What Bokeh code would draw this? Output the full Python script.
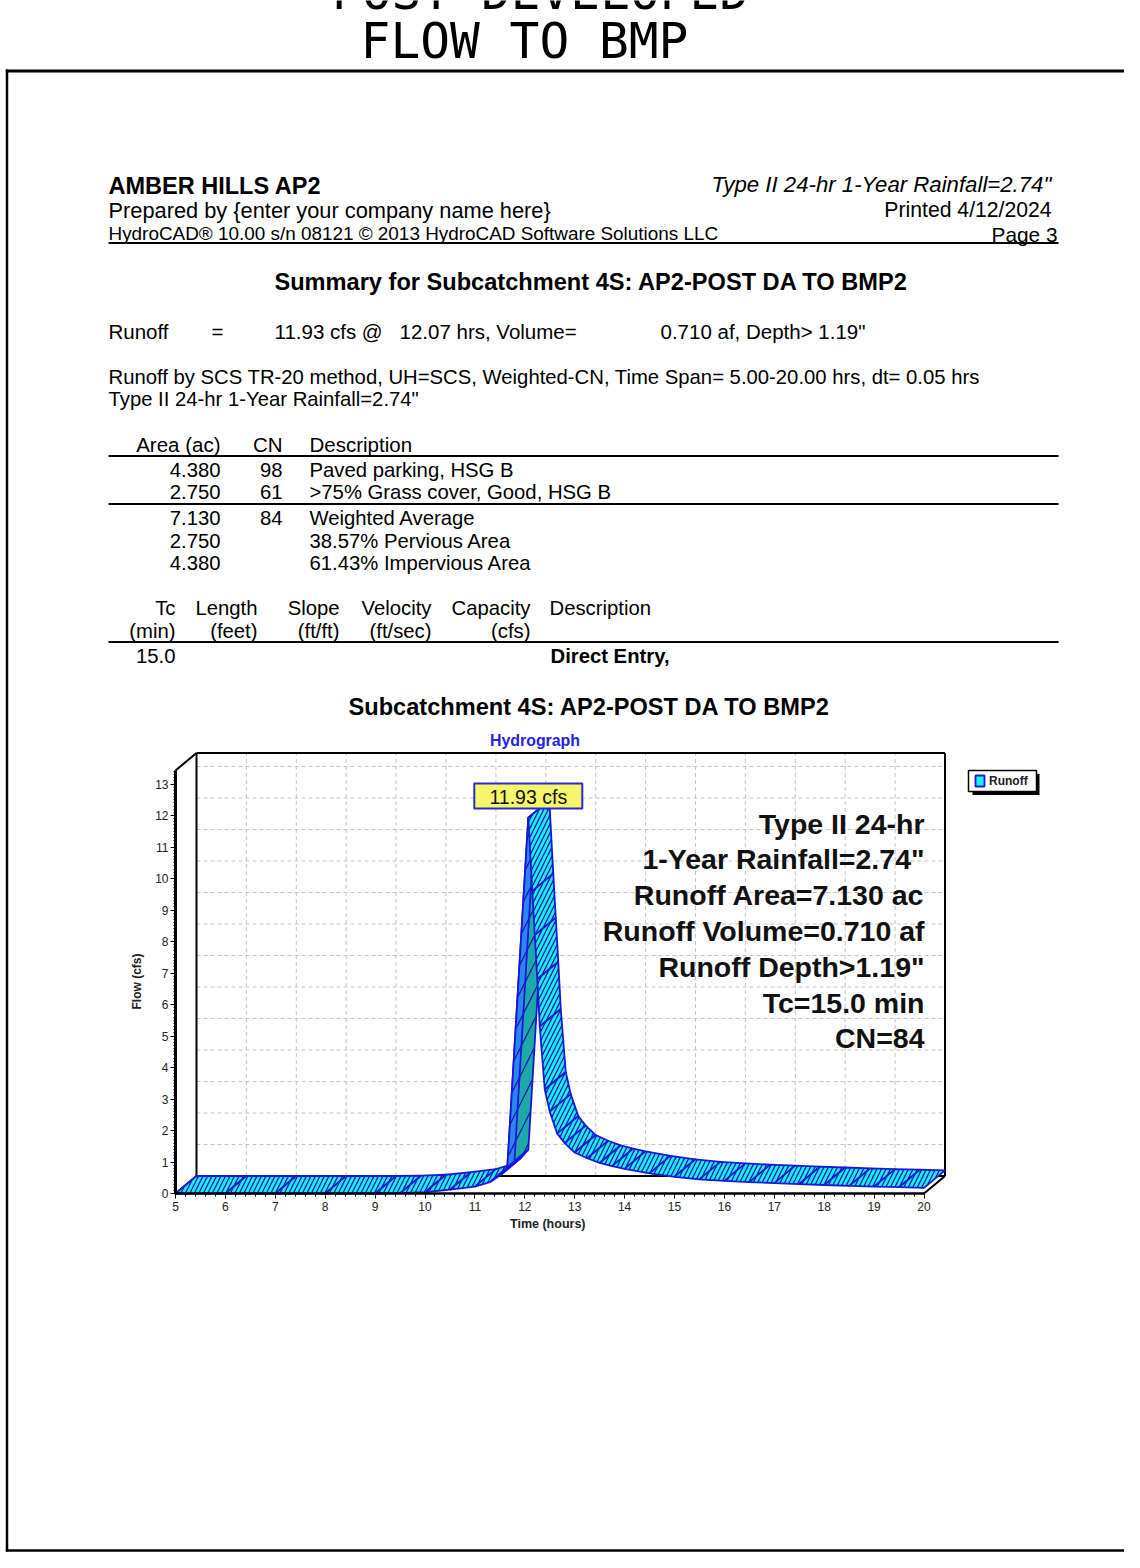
import math
from bokeh.plotting import figure
from bokeh.models import Range1d, LinearAxis, FixedTicker
from bokeh.core.properties import value
from bokeh.embed import file_html
from bokeh.resources import INLINE

# ---------------- data ----------------
time_hr = [5.0, 6.0, 7.0, 8.0, 9.0, 9.5, 10.0, 10.5, 11.0, 11.3, 11.5, 11.65,
           12.07, 12.15, 12.2, 12.25, 12.3, 12.4, 12.5, 12.65, 12.8, 13.0,
           13.25, 13.5, 13.75, 14.0, 14.5, 15.0, 15.5, 16.0, 16.5, 17.0,
           17.5, 18.0, 18.5, 19.0, 19.5, 20.0]
flow_cfs = [0.0, 0.0, 0.0, 0.0, 0.0, 0.01, 0.04, 0.12, 0.22, 0.36, 0.57, 0.84,
            11.93, 9.6, 8.2, 6.8, 5.3, 3.3, 2.6, 1.9, 1.6, 1.3,
            1.12, 0.97, 0.87, 0.78, 0.64, 0.53, 0.45, 0.40, 0.36, 0.33,
            0.30, 0.27, 0.24, 0.22, 0.20, 0.18]
peak_flow = 11.93
peak_time = 12.07
y_ticks = list(range(0, 14))
x_ticks = list(range(5, 21))

area_ac = ["4.380", "2.750", "7.130", "2.750", "4.380"]
cn_vals = ["98", "61", "84", "", ""]
area_desc = ["Paved parking, HSG B", ">75% Grass cover, Good, HSG B",
             "Weighted Average", "38.57% Pervious Area", "61.43% Impervious Area"]
tc_head1 = ["Tc", "Length", "Slope", "Velocity", "Capacity"]
tc_head2 = ["(min)", "(feet)", "(ft/ft)", "(ft/sec)", "(cfs)"]
chart_notes = ["Type II 24-hr", "1-Year Rainfall=2.74\"", "Runoff Area=7.130 ac",
               "Runoff Volume=0.710 af", "Runoff Depth>1.19\"", "Tc=15.0 min", "CN=84"]

# ---------------- page geometry (page pixels -> chart data) ----------------
W, H = 1124, 1552
T0PX, F0PY = 175.0, 1193.0
SX, SY = 49.9, 31.5


def X(px):
    return 5 + (px - T0PX) / SX


def Y(py):
    return (F0PY - py) / SY


p = figure(width=W, height=H, x_range=Range1d(X(0), X(W)),
           y_range=Range1d(Y(H), Y(0)), output_backend="svg",
           toolbar_location=None, x_axis_location=None, y_axis_location=None,
           min_border=0, outline_line_color=None,
           background_fill_color="white", border_fill_color="white")
p.xgrid.visible = False
p.ygrid.visible = False
for g in list(p.center):
    if g.__class__.__name__ == "Grid":
        g.visible = False

SANS = "Liberation Sans"


def txt(px, py, s, size, align="left", style="normal", color="black",
        font=SANS, angle=0.0, baseline="middle"):
    p.text(x=[X(px)], y=[Y(py)], text=[s], text_font=value(font),
           text_font_size=f"{size}px", text_align=align,
           text_baseline=baseline, text_color=color, text_font_style=style,
           angle=angle)


def hrule(px0, px1, py, w=2.0, color="black"):
    p.segment(x0=[X(px0)], y0=[Y(py)], x1=[X(px1)], y1=[Y(py)],
              line_width=w, line_color=color)


def vrule(px, py0, py1, w=2.0, color="black"):
    p.segment(x0=[X(px)], y0=[Y(py0)], x1=[X(px)], y1=[Y(py1)],
              line_width=w, line_color=color)


# ---------------- outer page ----------------
txt(540, -9, "POST DEVELOPED", 49.5, align="center", font="DejaVu Sans Mono")
txt(524, 40, "FLOW TO BMP", 49.5, align="center", font="DejaVu Sans Mono")
hrule(5.3, W, 70.5, 3)
vrule(6.5, 69, 1551, 2.5)
hrule(5.3, W, 1550, 2.5)

# ---------------- header ----------------
txt(108, 185, "AMBER HILLS AP2", 23.5, style="bold")
txt(108, 210, "Prepared by {enter your company name here}", 21.8)
txt(108, 233, "HydroCAD\u00ae 10.00  s/n 08121  \u00a9 2013 HydroCAD Software Solutions LLC", 18.9)
txt(1057, 184, "Type II 24-hr  1-Year Rainfall=2.74\"", 22.2, align="right", style="italic")
txt(1057, 209, "Printed  4/12/2024", 21.2, align="right")
txt(1057, 234, "Page 3", 20.8, align="right")
hrule(108, 1058, 242.5, 2)

txt(591, 281, "Summary for Subcatchment 4S: AP2-POST DA TO BMP2", 23.6,
    align="center", style="bold")

txt(108, 331, "Runoff", 20.5)
txt(211, 331, "=", 20.5)
txt(274, 331, f"{peak_flow:.2f} cfs @", 20.5)
txt(399, 331, f"{peak_time:.2f} hrs,  Volume=", 20.5)
txt(660, 331, "0.710 af,  Depth>  1.19\"", 20.5)

txt(108, 376, "Runoff by SCS TR-20 method, UH=SCS, Weighted-CN, Time Span= 5.00-20.00 hrs, dt= 0.05 hrs", 20.3)
txt(108, 398, "Type II 24-hr  1-Year Rainfall=2.74\"", 20.3)

# area table
txt(220, 444, "Area (ac)", 20.5, align="right")
txt(282, 444, "CN", 20.5, align="right")
txt(309, 444, "Description", 20.5)
hrule(108, 1058, 455.5, 2)
row_y = [469.5, 491.5, 517.5, 540, 562]
for i in range(len(area_ac)):
    txt(220, row_y[i], area_ac[i], 20.3, align="right")
    if cn_vals[i]:
        txt(282, row_y[i], cn_vals[i], 20.3, align="right")
    txt(309, row_y[i], area_desc[i], 20.3)
hrule(108, 1058, 503.5, 2)

# tc table
tc_right = [175, 257, 339, 431, 530]
for i in range(len(tc_head1)):
    txt(tc_right[i], 607.5, tc_head1[i], 20.3, align="right")
    txt(tc_right[i], 630.5, tc_head2[i], 20.3, align="right")
txt(549, 607.5, "Description", 20.3)
hrule(108, 1058, 641.5, 2)
txt(175, 655.5, "15.0", 20.3, align="right")
txt(550, 655.5, "Direct Entry,", 20.3, style="bold")

# ---------------- chart ----------------
txt(589, 706, "Subcatchment 4S: AP2-POST DA TO BMP2", 23.6, align="center", style="bold")
txt(534.5, 739.5, "Hydrograph", 15.9, align="center", style="bold", color="#2323e6")

DT = 21.0 / SX      # 3-D depth offset (hours)
DF = 17.5 / SY      # 3-D depth offset (cfs)
FTOP = Y(770)       # top of the front axis

# back-wall grid
gx = [k + DT for k in x_ticks[1:-1]]
p.segment(x0=gx, y0=[DF] * len(gx), x1=gx, y1=[FTOP + DF] * len(gx),
          line_color="#c4c4c4", line_dash="4 3", line_width=1)
gy = [k + DF for k in y_ticks[1:]]
p.segment(x0=[5 + DT] * len(gy), y0=gy, x1=[20 + DT] * len(gy), y1=gy,
          line_color="#c4c4c4", line_dash="4 3", line_width=1)

# back wall frame + 3-D corners
p.segment(x0=[5 + DT, 5 + DT, 20 + DT, 5 + DT], y0=[DF, FTOP + DF, DF, DF],
          x1=[20 + DT, 20 + DT, 20 + DT, 5 + DT], y1=[DF, FTOP + DF, FTOP + DF, FTOP + DF],
          line_color="black", line_width=2)
p.segment(x0=[5, 5, 20], y0=[FTOP, 0, 0], x1=[5 + DT, 5 + DT, 20 + DT],
          y1=[FTOP + DF, DF, DF], line_color="black", line_width=2)

# 3-D hydrograph ribbon (one face per time step)
xs, ys, fills, hpat, hscale = [], [], [], [], []
for i in range(len(time_hr) - 1):
    t0, t1 = time_hr[i], time_hr[i + 1]
    f0, f1 = flow_cfs[i], flow_cfs[i + 1]
    dxp = (t1 - t0) * SX
    dyp = (f1 - f0) * SY
    under = dxp * 17.5 - dyp * 21.0 < 0
    xs.append([t0, t1, t1 + DT, t0 + DT])
    ys.append([f0, f1, f1 + DF, f0 + DF])
    if under:
        fills.append("#1ea9a9")
        hpat.append("/")
        hscale.append(28)
        k = 0.34
        xs.append([t0, t1, t1 + k * DT, t0 + k * DT])
        ys.append([f0, f1, f1 + k * DF, f0 + k * DF])
        fills.append("#2a86f2")
        hpat.append("/")
        hscale.append(28)
    else:
        fills.append("#14f2f2")
        hpat.append("/")
        hscale.append(9)
p.patches(xs=xs, ys=ys, fill_color=fills, line_color="#1818d8", line_width=1.8,
          hatch_pattern=hpat, hatch_color="#1616b4", hatch_scale=hscale,
          hatch_weight=1.3)

# peak label
hw = 54 / SX
p.quad(left=[peak_time - hw], right=[peak_time + hw], top=[Y(783)], bottom=[Y(808)],
       fill_color="#f6f66a", line_color="#2a2ad0", line_width=2)
p.text(x=[peak_time], y=[Y(796)], text=[f"{peak_flow:.2f} cfs"], text_font=value(SANS),
       text_font_size="19.5px", text_align="center", text_baseline="middle",
       text_color="#111111")

# notes
for i, s in enumerate(chart_notes):
    txt(924, 823 + i * 35.8, s, 28.5, align="right", style="bold", color="#111111")

# legend
p.quad(left=[X(972)], right=[X(1039)], top=[Y(773.5)], bottom=[Y(794.5)],
       fill_color="black", line_color=None)
p.quad(left=[X(968)], right=[X(1036)], top=[Y(770)], bottom=[Y(791)],
       fill_color="white", line_color="black", line_width=1.5)
p.quad(left=[X(975)], right=[X(984)], top=[Y(775)], bottom=[Y(786)],
       fill_color="#14f2f2", line_color="#1818d8", line_width=1.8)
txt(988.5, 780.5, "Runoff", 12, style="bold", color="#222222")

# axes
yaxis = LinearAxis(fixed_location=5, bounds=(0, FTOP),
                   ticker=FixedTicker(ticks=y_ticks,
                                      minor_ticks=[i / 10 for i in range(0, 135)]),
                   axis_line_width=3, axis_line_color="black",
                   major_tick_out=5, major_tick_in=0, major_tick_line_width=1,
                   minor_tick_out=2, minor_tick_in=0, minor_tick_line_width=1,
                   major_label_text_font=SANS, major_label_text_font_size="12px",
                   major_label_text_color="#222222", major_label_standoff=2)
p.add_layout(yaxis, "left")
xaxis = LinearAxis(fixed_location=0, bounds=(5, 20),
                   ticker=FixedTicker(ticks=x_ticks,
                                      minor_ticks=[5 + i / 5 for i in range(0, 76)]),
                   axis_line_width=2.5, axis_line_color="black",
                   major_tick_out=5, major_tick_in=0, major_tick_line_width=1,
                   minor_tick_out=3, minor_tick_in=0, minor_tick_line_width=1,
                   major_label_text_font=SANS, major_label_text_font_size="12px",
                   major_label_text_color="#222222", major_label_standoff=3)
p.add_layout(xaxis, "below")

txt(136.5, 981, "Flow (cfs)", 12, align="center", style="bold",
    color="#222222", angle=math.pi / 2)
txt(549, 1223, "Time  (hours)", 12.5, align="center", style="bold", color="#222222")

open("out.html", "w").write(file_html(p, INLINE))
